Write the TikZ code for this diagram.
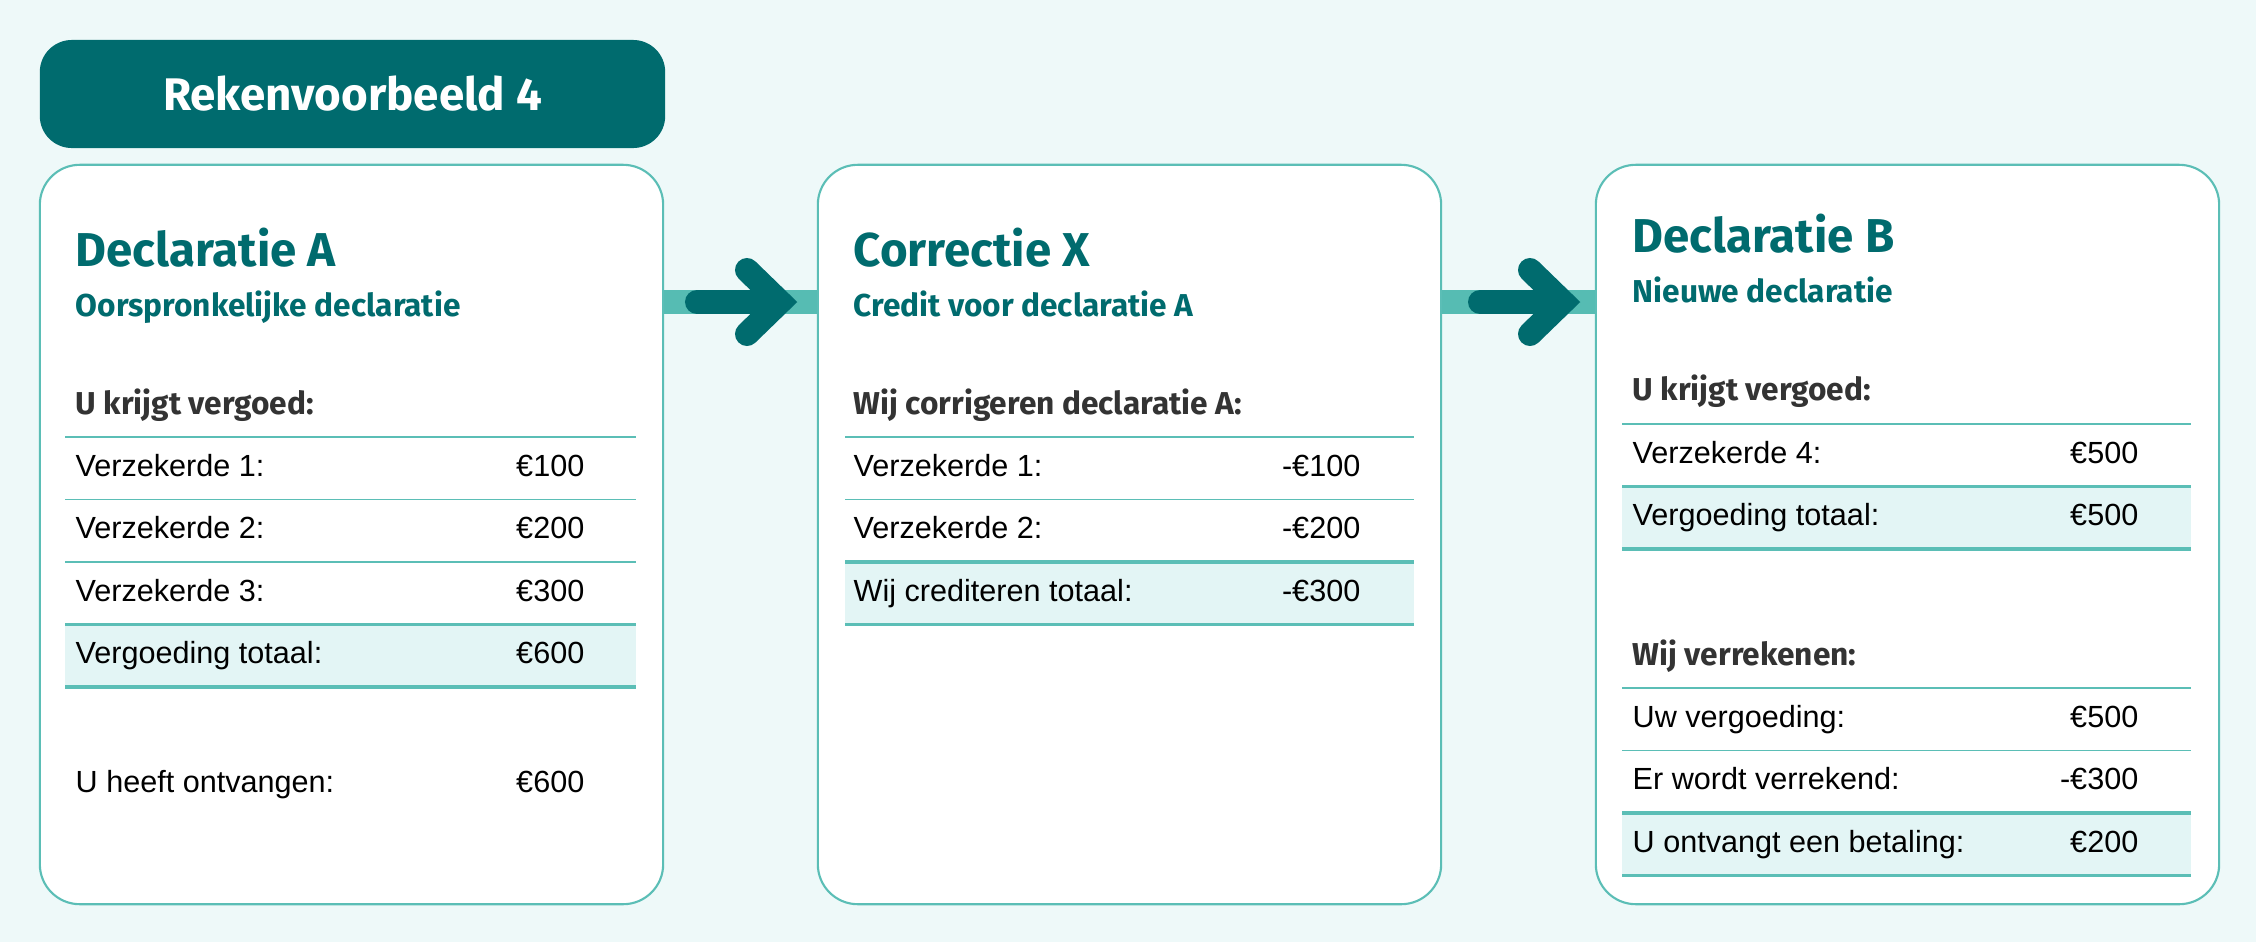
\documentclass[tikz,border=0pt]{standalone}
\usepackage{fontspec}
\setmainfont{Liberation Sans}
\newfontfamily\headfont{Fira Sans}

\definecolor{bgteal}{HTML}{EEF9F9}
\definecolor{darkteal}{HTML}{006B6E}
\definecolor{lineteal}{HTML}{5BBEB6}
\definecolor{bandteal}{HTML}{56BCB3}
\definecolor{rowfill}{HTML}{E3F5F5}
\definecolor{labelgrey}{HTML}{333333}

\tikzset{
  card/.style={draw=lineteal, line width=0.6pt, fill=white, rounded corners=0.4cm,
    minimum width=6.23cm, minimum height=7.39cm, inner sep=0pt},
  titlebox/.style={fill=darkteal, rounded corners=0.32cm, minimum width=6.25cm,
    minimum height=1.08cm, inner sep=0pt, text=white,
    font=\headfont\bfseries\fontsize{13}{16}\selectfont},
  head/.style={anchor=base west, inner sep=0pt, text=darkteal,
    font=\headfont\bfseries\fontsize{13.5}{16}\selectfont},
  subhead/.style={anchor=base west, inner sep=0pt, text=darkteal,
    font=\headfont\bfseries\fontsize{9}{11}\selectfont},
  grouphead/.style={anchor=base west, inner sep=0pt, text=labelgrey,
    font=\headfont\bfseries\fontsize{9}{11}\selectfont},
  rowtext/.style={anchor=base west, inner sep=0pt, font=\fontsize{8.7}{11}\selectfont},
  amount/.style={anchor=base east, inner sep=0pt, font=\fontsize{8.7}{11}\selectfont},
  sep/.style={draw=lineteal, line width=0.55pt},
  boldsep/.style={draw=lineteal, line width=1.1pt},
  hilite/.style={fill=rowfill},
  band/.style={draw=bandteal, line width=0.23cm},
  bigarrow/.style={draw=darkteal, line width=0.24cm, line cap=round, line join=miter}
}

\begin{document}
\begin{tikzpicture}[x=0.01cm, y=-0.01cm]
\useasboundingbox (0,0) rectangle (2256,942);
\fill[bgteal] (0,0) rectangle (2256,942);

\node[titlebox] (title) at (352.5,94) {Rekenvoorbeeld 4};

\node[card] (declA) at (351.5,534.5) {};
\node[card] (corrX) at (1129.5,534.5) {};
\node[card] (declB) at (1907.5,534.5) {};

% verbindingen
\coordinate (lvl) at (0,302);
\draw[band] (declA.east |- lvl) -- (corrX.west |- lvl);
\draw[band] (corrX.east |- lvl) -- (declB.west |- lvl);
\draw[bigarrow] (697,302) -- (768,302);
\draw[bigarrow] (747,270) -- (780,302) -- (747,334);
\draw[bigarrow] (1480,302) -- (1551,302);
\draw[bigarrow] (1530,270) -- (1563,302) -- (1530,334);

% Declaratie A
\node[head] (a-head) at (75,266) {Declaratie A};
\node[subhead] (a-sub) at (75,316) {Oorspronkelijke declaratie};
\node[grouphead] (a-group) at (75,414) {U krijgt vergoed:};
\fill[hilite] (65,624.5) rectangle (636,687);
\draw[sep] (65,437) -- (636,437);
\draw[sep] (65,499.5) -- (636,499.5);
\draw[sep] (65,562) -- (636,562);
\draw[boldsep] (65,624.5) -- (636,624.5);
\draw[boldsep] (65,687) -- (636,687);
\node[rowtext] (a-r1) at (75,476) {Verzekerde 1:};
\node[amount] (a-v1) at (585,476) {€100};
\node[rowtext] (a-r2) at (75,538.5) {Verzekerde 2:};
\node[amount] (a-v2) at (585,538.5) {€200};
\node[rowtext] (a-r3) at (75,601) {Verzekerde 3:};
\node[amount] (a-v3) at (585,601) {€300};
\node[rowtext] (a-tot) at (75,663.5) {Vergoeding totaal:};
\node[amount] (a-vtot) at (585,663.5) {€600};
\node[rowtext] (a-ont) at (75,792) {U heeft ontvangen:};
\node[amount] (a-vont) at (585,792) {€600};

% Correctie X
\node[head] (x-head) at (853,266) {Correctie X};
\node[subhead] (x-sub) at (853,316) {Credit voor declaratie A};
\node[grouphead] (x-group) at (853,414) {Wij corrigeren declaratie A:};
\fill[hilite] (845,562) rectangle (1414,624.5);
\draw[sep] (845,437) -- (1414,437);
\draw[sep] (845,499.5) -- (1414,499.5);
\draw[boldsep] (845,562) -- (1414,562);
\draw[boldsep] (845,624.5) -- (1414,624.5);
\node[rowtext] (x-r1) at (853,476) {Verzekerde 1:};
\node[amount] (x-v1) at (1361,476) {-€100};
\node[rowtext] (x-r2) at (853,538.5) {Verzekerde 2:};
\node[amount] (x-v2) at (1361,538.5) {-€200};
\node[rowtext] (x-tot) at (853,601) {Wij crediteren totaal:};
\node[amount] (x-vtot) at (1361,601) {-€300};

% Declaratie B
\node[head] (b-head) at (1632,252) {Declaratie B};
\node[subhead] (b-sub) at (1632,302) {Nieuwe declaratie};
\node[grouphead] (b-group) at (1632,400) {U krijgt vergoed:};
\fill[hilite] (1622,486.5) rectangle (2191,549);
\draw[sep] (1622,424) -- (2191,424);
\draw[boldsep] (1622,486.5) -- (2191,486.5);
\draw[boldsep] (1622,549) -- (2191,549);
\node[rowtext] (b-r4) at (1632,463) {Verzekerde 4:};
\node[amount] (b-v4) at (2139,463) {€500};
\node[rowtext] (b-tot) at (1632,525.5) {Vergoeding totaal:};
\node[amount] (b-vtot) at (2139,525.5) {€500};

\node[grouphead] (b-group2) at (1632,665) {Wij verrekenen:};
\fill[hilite] (1622,813) rectangle (2191,875.5);
\draw[sep] (1622,688) -- (2191,688);
\draw[sep] (1622,750.5) -- (2191,750.5);
\draw[boldsep] (1622,813) -- (2191,813);
\draw[boldsep] (1622,875.5) -- (2191,875.5);
\node[rowtext] (b-uw) at (1632,727) {Uw vergoeding:};
\node[amount] (b-vuw) at (2139,727) {€500};
\node[rowtext] (b-ver) at (1632,789.5) {Er wordt verrekend:};
\node[amount] (b-vver) at (2139,789.5) {-€300};
\node[rowtext] (b-bet) at (1632,852) {U ontvangt een betaling:};
\node[amount] (b-vbet) at (2139,852) {€200};

\end{tikzpicture}
\end{document}
